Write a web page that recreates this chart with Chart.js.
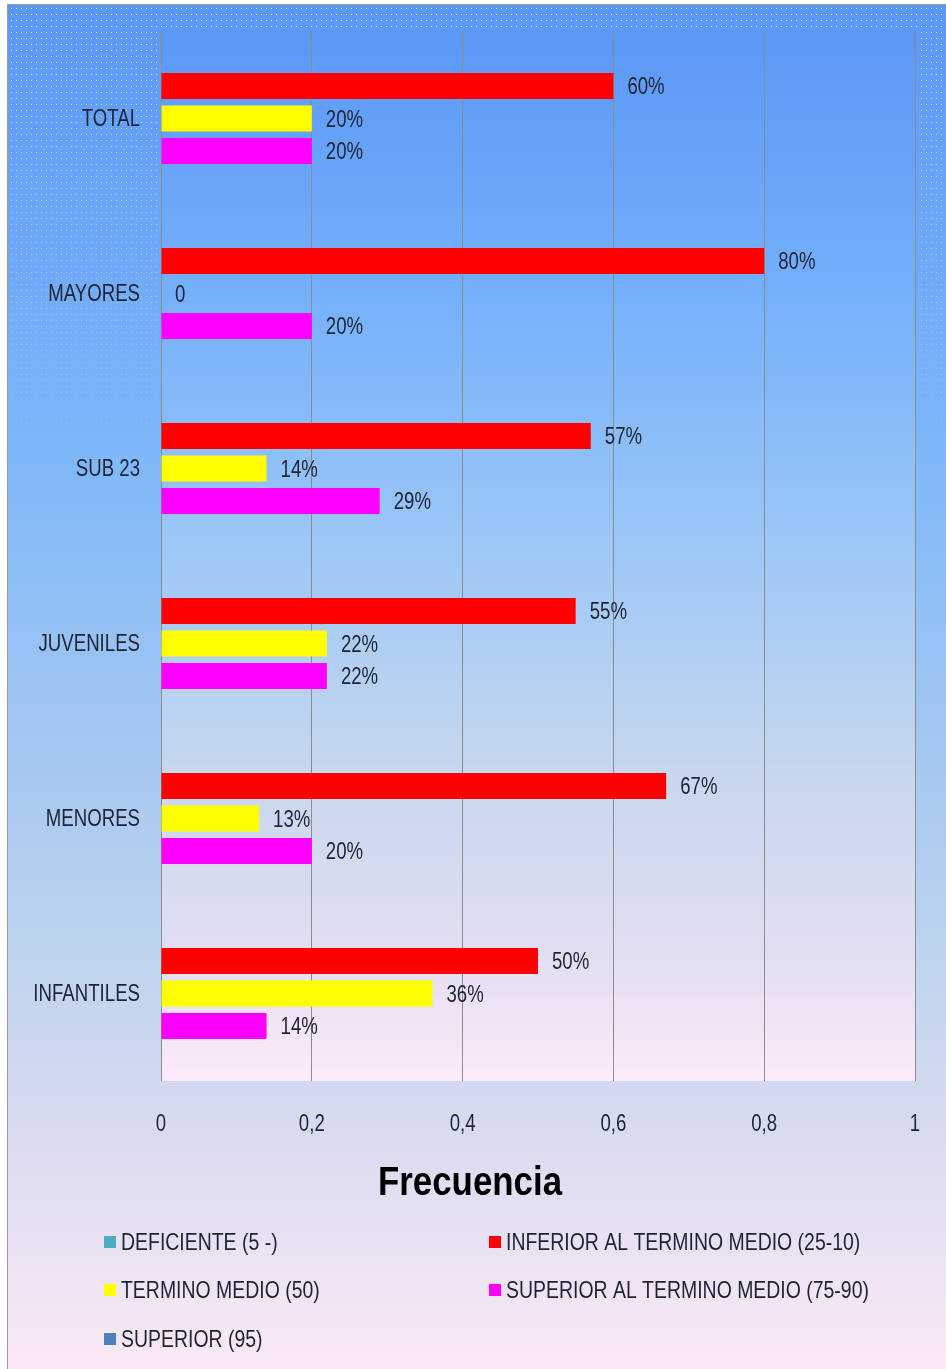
<!DOCTYPE html>
<html><head><meta charset="utf-8">
<script src="https://cdn.jsdelivr.net/npm/chart.js@4/dist/chart.umd.min.js"></script>
<style>html,body{margin:0;padding:0;background:#fff;overflow:hidden}#wrap{width:946px;height:1369px;position:relative}canvas{display:block}</style>
</head><body><div id="wrap"><canvas id="c" width="946" height="1369"></canvas></div>
<script>
const categories = ['TOTAL', 'MAYORES', 'SUB 23', 'JUVENILES', 'MENORES', 'INFANTILES'];
const seriesNames = ['DEFICIENTE (5 -)', 'INFERIOR AL TERMINO MEDIO (25-10)', 'TERMINO MEDIO (50)', 'SUPERIOR AL TERMINO MEDIO (75-90)', 'SUPERIOR (95)'];
const seriesColors = ['#4bacc6', '#ff0000', '#ffff00', '#ff00ff', '#4f81bd'];
const deficiente = [null, null, null, null, null, null];
const inferior = [0.60, 0.80, 0.57, 0.55, 0.67, 0.50];
const terminoMedio = [0.20, 0, 0.14, 0.22, 0.13, 0.36];
const superiorAl = [0.20, 0.20, 0.29, 0.22, 0.20, 0.14];
const superior = [null, null, null, null, null, null];
const xTickLabels = ['0', '0,2', '0,4', '0,6', '0,8', '1'];
const axisTitle = 'Frecuencia';

const FONT = '"Liberation Sans", Arial, sans-serif';
const TXT = '#1d2333';
const SX = 0.81;

const seriesData = [deficiente, inferior, terminoMedio, superiorAl, superior];

function drawText(ctx, text, x, y, align, font, color, sx) {
  ctx.save();
  ctx.translate(x, y);
  ctx.scale(sx, 1);
  ctx.font = font;
  ctx.fillStyle = color;
  ctx.textAlign = align;
  ctx.textBaseline = 'middle';
  ctx.fillText(text, 0, 0);
  ctx.restore();
}

const bgPlugin = {
  id: 'bg',
  beforeDraw(chart) {
    const ctx = chart.ctx, W = chart.width, H = chart.height, a = chart.chartArea;
    ctx.save();
    ctx.fillStyle = '#ffffff';
    ctx.fillRect(0, 0, W, H);
    const g = ctx.createLinearGradient(0, 4, 0, H);
    g.addColorStop(0, '#5a98f7');
    g.addColorStop(0.34, '#80b8f8');
    g.addColorStop(0.57, '#a8c9f0');
    g.addColorStop(0.73, '#c4d6ee');
    g.addColorStop(0.84, '#dcdcf0');
    g.addColorStop(1, '#fbe9f6');
    ctx.fillStyle = g;
    ctx.fillRect(8, 4, W - 8, H - 4);
    for (let y = 8; y < 480; y += 6) {
      const al = 0.8 * (1 - y / 480);
      ctx.fillStyle = 'rgba(255,255,255,' + al.toFixed(3) + ')';
      for (let x = 11; x < W; x += 5) {
        if (x >= a.left - 1 && x <= a.right + 1 && y >= a.top - 1) continue;
        ctx.fillRect(x, y, 1, 1);
      }
    }
    const g2 = ctx.createLinearGradient(0, a.top, 0, a.bottom);
    g2.addColorStop(0, '#5a98f7');
    g2.addColorStop(0.25, '#74b0fa');
    g2.addColorStop(0.5, '#9ec8f6');
    g2.addColorStop(0.72, '#c9d8ee');
    g2.addColorStop(0.88, '#e2def2');
    g2.addColorStop(1, '#fdebf8');
    ctx.fillStyle = g2;
    ctx.fillRect(a.left, a.top, a.right - a.left, a.bottom - a.top);
    ctx.fillStyle = '#9a9a9a';
    ctx.fillRect(7, 4, W - 7, 1);
    ctx.fillRect(7, 4, 1, H - 4);
    ctx.restore();
  }
};

const labelPlugin = {
  id: 'vals',
  afterDatasetsDraw(chart) {
    const ctx = chart.ctx;
    const f = '23px ' + FONT;
    chart.data.datasets.forEach((ds, di) => {
      const meta = chart.getDatasetMeta(di);
      meta.data.forEach((bar, i) => {
        const v = ds.data[i];
        if (v === null || v === undefined) return;
        const txt = v === 0 ? '0' : Math.round(v * 100) + '%';
        drawText(ctx, txt, bar.x + 14, bar.y + 2, 'left', f, TXT, SX);
      });
    });
  }
};

const axisTextPlugin = {
  id: 'axisText',
  afterDraw(chart) {
    const ctx = chart.ctx;
    const f = '23px ' + FONT;
    const xs = chart.scales.x, ys = chart.scales.y;
    xs.ticks.forEach((t, i) => {
      drawText(ctx, xTickLabels[i], xs.getPixelForValue(t.value), 1125, 'center', f, TXT, SX);
    });
    categories.forEach((c, i) => {
      drawText(ctx, c, 140, ys.getPixelForValue(i) + 1, 'right', f, TXT, SX);
    });
    drawText(ctx, axisTitle, 470, 1184, 'center', 'bold 41px ' + FONT, '#000000', 0.85);
    const pos = [[104, 1242], [489, 1242], [104, 1290], [489, 1290], [104, 1339]];
    chart.data.datasets.forEach((ds, i) => {
      const [x, y] = pos[i];
      ctx.fillStyle = ds.backgroundColor;
      ctx.fillRect(x, y - 6, 12, 12);
      drawText(ctx, ds.label, x + 17, y + 1, 'left', '24px ' + FONT, TXT, SX);
    });
  }
};

new Chart(document.getElementById('c'), {
  type: 'bar',
  data: {
    labels: categories,
    datasets: seriesNames.map((n, i) => ({
      label: n,
      data: seriesData[i],
      backgroundColor: seriesColors[i],
      borderWidth: 0,
      categoryPercentage: 0.9286,
      barPercentage: 0.8
    }))
  },
  options: {
    indexAxis: 'y',
    responsive: false,
    devicePixelRatio: 1,
    animation: false,
    layout: { padding: { top: 31, right: 31, left: 0, bottom: 0 } },
    plugins: { legend: { display: false }, tooltip: { enabled: false }, title: { display: false } },
    scales: {
      x: {
        min: 0, max: 1,
        afterFit(s) { s.height = 288; },
        ticks: { stepSize: 0.2, display: false },
        grid: { color: '#8c8c8c', lineWidth: 1, drawTicks: false },
        border: { display: false }
      },
      y: {
        afterFit(s) { s.width = 161; },
        ticks: { display: false },
        grid: { display: false, drawTicks: false },
        border: { display: false }
      }
    }
  },
  plugins: [bgPlugin, labelPlugin, axisTextPlugin]
});
</script>
</body></html>
